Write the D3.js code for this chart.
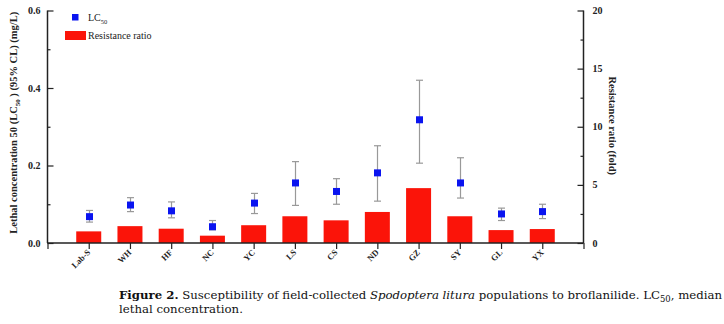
<!doctype html>
<html lang="en">
<head>
<meta charset="utf-8">
<script src="https://cdn.jsdelivr.net/npm/d3@7"></script>
<style>
  body { margin: 0; background: #fff; }
  svg { display: block; }
  text { font-family: "Liberation Serif", "Times New Roman", serif; }
</style>
</head>
<body>
<svg id="chart" width="724" height="324"></svg>
<script>
// populations, LC50 (mg/L) with 95% CL, resistance ratio (fold)
const populations = ["Lab-S", "WH", "HF", "NC", "YC", "LS", "CS", "ND", "GZ", "SY", "GL", "YX"];
const lc50 = [0.068, 0.098, 0.083, 0.042, 0.103, 0.155, 0.133, 0.181, 0.318, 0.155, 0.075, 0.081];
const clLow = [0.054, 0.081, 0.065, 0.034, 0.076, 0.097, 0.100, 0.108, 0.206, 0.116, 0.058, 0.063];
const clHigh = [0.084, 0.117, 0.106, 0.058, 0.128, 0.210, 0.166, 0.251, 0.420, 0.220, 0.090, 0.100];
const ratio = [1.0, 1.45, 1.23, 0.63, 1.53, 2.30, 1.95, 2.67, 4.72, 2.30, 1.11, 1.20];
const leftTicks = [0, 0.2, 0.4, 0.6];
const rightTicks = [0, 5, 10, 15, 20];

const svg = d3.select("#chart");
const plotL = 47.5, plotR = 583.5, plotT = 10.5, plotB = 243;

const x = d3.scaleLinear().domain([0, populations.length + 1]).range([plotL, plotR]);
const yL = d3.scaleLinear().domain([0, 0.6]).range([plotB, plotT]);
const yR = d3.scaleLinear().domain([0, 20]).range([plotB, plotT]);
const barW = 25;

// bars
svg.append("g").selectAll("rect").data(ratio).join("rect")
  .attr("x", (d, i) => x(i + 1) - barW / 2)
  .attr("y", d => yR(d))
  .attr("width", barW)
  .attr("height", d => yR(0) - yR(d))
  .attr("fill", "#fb1409");

// error bars
const eb = svg.append("g").attr("stroke", "#999").attr("stroke-width", 1.2).attr("fill", "none");
populations.forEach((p, i) => {
  const cx = Math.round(x(i + 1)) + 0.5;
  eb.append("line").attr("x1", cx).attr("x2", cx).attr("y1", yL(clLow[i])).attr("y2", yL(clHigh[i]));
  eb.append("line").attr("x1", cx - 3.5).attr("x2", cx + 3.5).attr("y1", yL(clLow[i])).attr("y2", yL(clLow[i]));
  eb.append("line").attr("x1", cx - 3.5).attr("x2", cx + 3.5).attr("y1", yL(clHigh[i])).attr("y2", yL(clHigh[i]));
});

// points
svg.append("g").selectAll("rect").data(lc50).join("rect")
  .attr("x", (d, i) => Math.round(x(i + 1)) + 0.5 - 3.5)
  .attr("y", d => yL(d) - 3.5)
  .attr("width", 7).attr("height", 7)
  .attr("fill", "#0a14f0");

// axes
const leftAxis = d3.axisLeft(yL).tickValues(d3.range(0, 0.61, 0.1)).tickSize(-6).tickFormat(() => "");
const gL = svg.append("g").attr("transform", `translate(${plotL},0)`).call(leftAxis);
gL.selectAll(".tick line").attr("x2", (d, i) => (i % 2 ? 3 : 6));
gL.append("g").selectAll("text").data(leftTicks).join("text")
  .attr("x", -7).attr("y", d => yL(d) + 3.5)
  .attr("text-anchor", "end").attr("font-size", 10).attr("font-weight", "bold").attr("fill", "#222")
  .text(d => d.toFixed(1));

const rightAxis = d3.axisRight(yR).tickValues(d3.range(0, 20.1, 2.5)).tickSize(-6).tickFormat(() => "");
const gR = svg.append("g").attr("transform", `translate(${plotR},0)`).call(rightAxis);
gR.selectAll(".tick line").attr("x2", (d, i) => (i % 2 ? -3 : -6));
gR.append("g").selectAll("text").data(rightTicks).join("text")
  .attr("x", 9).attr("y", d => yR(d) + 3.5)
  .attr("font-size", 10).attr("font-weight", "bold").attr("fill", "#222")
  .text(d => d);

const bottomAxis = d3.axisBottom(x).tickValues(d3.range(0, populations.length + 2)).tickSize(6).tickFormat(() => "");
const gB = svg.append("g").attr("transform", `translate(0,${plotB})`).call(bottomAxis);
[gL, gR, gB].forEach(g => {
  g.select(".domain").attr("stroke", "#222").attr("stroke-width", 1.5);
  g.selectAll(".tick line").attr("stroke", "#222").attr("stroke-width", 1.2);
});
gL.select(".domain").attr("d", `M0,${plotT}V${plotB}`);
gR.select(".domain").attr("d", `M0,${plotT}V${plotB}`);
gB.select(".domain").attr("d", `M${plotL},0H${plotR}`);

gB.append("g").selectAll("text").data(populations).join("text")
  .attr("transform", (d, i) => `translate(${x(i + 1) + 2},${10}) rotate(-45)`)
  .attr("text-anchor", "end").attr("font-size", 8.5).attr("font-weight", "bold").attr("fill", "#222")
  .text(d => d);

// axis titles
const tl = svg.append("text")
  .attr("transform", `translate(17,${(plotT + plotB) / 2 - 4}) rotate(-90)`)
  .attr("text-anchor", "middle").attr("font-size", 10.5).attr("font-weight", "bold").attr("fill", "#222");
tl.append("tspan").text("Lethal concentration 50 (LC");
tl.append("tspan").attr("font-size", 7).attr("dy", 2.5).text("50");
tl.append("tspan").attr("dy", -2.5).text(" ) (95% CL) (mg/L)");

svg.append("text")
  .attr("transform", `translate(609,${(plotT + plotB) / 2 - 1}) rotate(90)`)
  .attr("text-anchor", "middle").attr("font-size", 10.5).attr("font-weight", "bold").attr("fill", "#222")
  .text("Resistance ratio (fold)");

// legend
svg.append("rect").attr("x", 72).attr("y", 14).attr("width", 6.5).attr("height", 6.5).attr("fill", "#0a14f0");
const lg = svg.append("text").attr("x", 88).attr("y", 21).attr("font-size", 10).attr("fill", "#222");
lg.append("tspan").text("LC");
lg.append("tspan").attr("font-size", 6.5).attr("dy", 2.5).text("50");
svg.append("rect").attr("x", 65).attr("y", 31).attr("width", 21).attr("height", 9).attr("fill", "#fb1409");
svg.append("text").attr("x", 88).attr("y", 38.5).attr("font-size", 10).attr("fill", "#222").text("Resistance ratio");

// caption (Palatino-like, fitted so that line 1 runs to the right edge)
const capFont = '"DejaVu Serif", serif';
const cap = svg.append("text").attr("x", 119).attr("y", 299).attr("font-size", 12)
  .style("font-family", capFont).attr("fill", "#111");
cap.append("tspan").attr("font-weight", "bold").text("Figure 2.");
cap.append("tspan").text(" Susceptibility of field-collected ");
cap.append("tspan").attr("font-style", "italic").text("Spodoptera litura");
cap.append("tspan").text(" populations to broflanilide. LC");
const sub = cap.append("tspan").attr("font-size", 9).attr("dy", 3).text("50");
cap.append("tspan").attr("dy", -3).text(", median");
const w = cap.node().getComputedTextLength();
const fs = 12 * 604 / w;
cap.attr("font-size", fs);
sub.attr("font-size", fs * 0.72);
svg.append("text").attr("x", 119).attr("y", 313).attr("font-size", fs)
  .style("font-family", capFont).attr("fill", "#111")
  .text("lethal concentration.");
</script>
</body>
</html>
